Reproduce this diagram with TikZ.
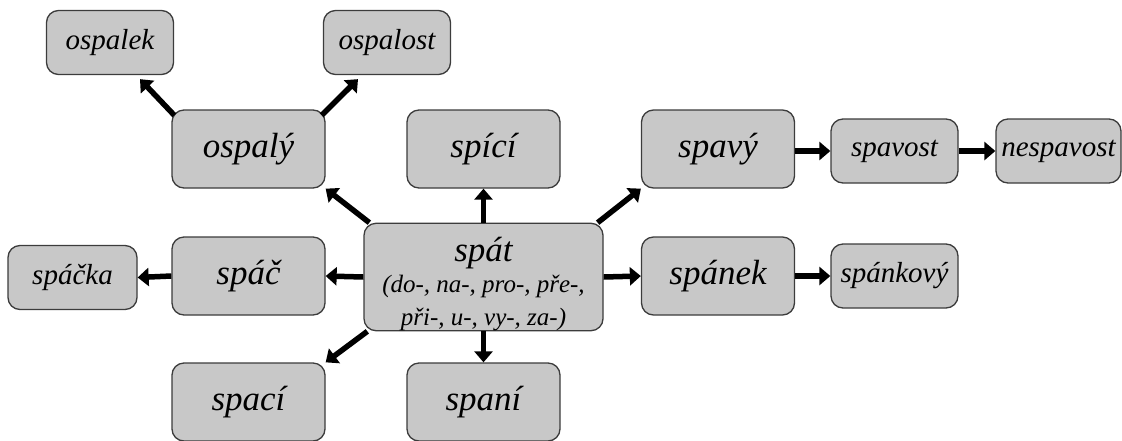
\documentclass[tikz,border=0pt]{standalone}
\usepackage{fontspec}
\setmainfont{Liberation Serif}
\usetikzlibrary{arrows.meta}

\definecolor{boxgray}{HTML}{C8C8C8}
\definecolor{boxline}{HTML}{3C3C3C}

\newcommand{\prefixline}[1]{{\fontsize{25}{28}\selectfont #1}}

\tikzset{
  word/.style={draw=boxline, fill=boxgray, line width=1.3pt, rounded corners=12pt, inner sep=0pt, align=center},
  bigword/.style={word, minimum width=153pt, minimum height=78pt, font=\fontsize{35}{38}\selectfont\itshape},
  smallword/.style={word, minimum width=127pt, minimum height=64pt, font=\fontsize{29}{32}\selectfont\itshape},
  arr/.style={line width=5.5pt, -{Triangle[length=11pt,width=18pt]}}
}

\begin{document}
\begin{tikzpicture}[x=1pt,y=-1pt]
\useasboundingbox (0,0) rectangle (1122,440);

% root verb
\node[bigword, minimum width=239pt, minimum height=104pt] at (483.5,277) (spat)
  {\rule{0pt}{38pt}spát\\[-7pt]\prefixline{(do-, na-, pro-, pře-,}\\[-5pt]\prefixline{při-, u-, vy-, za-)}};

% first level
\node[bigword] at (248.5,149) (ospaly){ospalý};
\node[bigword] at (483.5,149) (spici){spící};
\node[bigword] at (718,149) (spavy){spavý};
\node[bigword] at (248.5,276) (spac){spáč};
\node[bigword] at (718,276) (spanek){spánek};
\node[bigword] at (248.5,402) (spaci){spací};
\node[bigword] at (483.5,402) (spani){spaní};

% second level
\node[smallword] at (110,42.5) (ospalek){ospalek};
\node[smallword] at (387,42.5) (ospalost){ospalost};
\node[smallword] at (894.5,151) (spavost){spavost};
\node[smallword, minimum width=125pt] at (1058.5,151) (nespavost){nespavost};
\node[smallword, minimum width=129pt] at (72.5,277.5) (spacka){spáčka};
\node[smallword] at (894.5,276) (spankovy){spánkový};

% arrows
\draw[arr] (spat.north) -- (spici.south);
\draw[arr] (spat.south) -- (spani.north);
\draw[arr] (spat.west) -- (spac.east);
\draw[arr] (spat.east) -- (spanek.west);
\draw[arr] ([xshift=6pt]spat.north west) -- (ospaly.south east);
\draw[arr] ([xshift=-6pt]spat.north east) -- (spavy.south west);
\draw[arr] ([xshift=4pt]spat.south west) -- (spaci.north east);
\draw[arr] (spac.west) -- (spacka.east);
\draw[arr] (spanek.east) -- (spankovy.west);
\draw[arr] (spavy.east |- spavost.west) -- (spavost.west);
\draw[arr] (spavost.east) -- (nespavost.west);
\draw[arr] ([xshift=3pt,yshift=-6pt]ospaly.north west) -- ([xshift=30pt,yshift=-4pt]ospalek.south);
\draw[arr] ([xshift=-4pt,yshift=-6pt]ospaly.north east) -- ([xshift=-29pt,yshift=-4pt]ospalost.south);
\end{tikzpicture}
\end{document}
